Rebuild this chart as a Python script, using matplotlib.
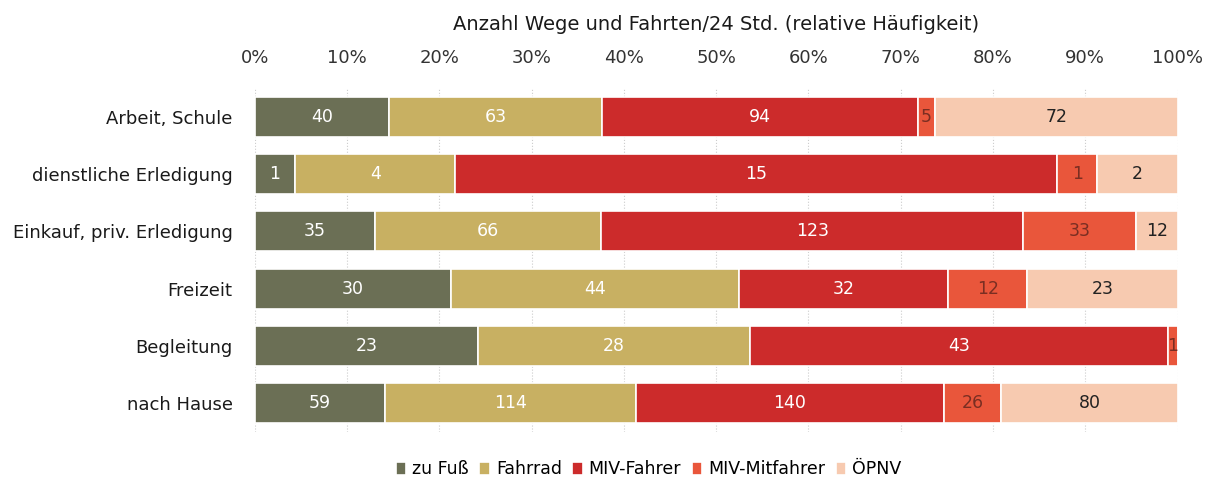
import matplotlib
matplotlib.use("Agg")
from matplotlib import pyplot as plt
import numpy as np

plt.rcParams['font.family'] = ['DejaVu Sans']

categories = ['Arbeit, Schule', 'dienstliche Erledigung', 'Einkauf, priv. Erledigung',
              'Freizeit', 'Begleitung', 'nach Hause']
series = ['zu Fuß', 'Fahrrad', 'MIV-Fahrer', 'MIV-Mitfahrer', 'ÖPNV']
zu_fuss = [40, 1, 35, 30, 23, 59]
fahrrad = [63, 4, 66, 44, 28, 114]
miv_fahrer = [94, 15, 123, 32, 43, 140]
miv_mitfahrer = [5, 1, 33, 12, 1, 26]
oepnv = [72, 2, 12, 23, 0, 80]

colors = ['#6b6f55', '#c8b062', '#cc2b2b', '#e9563b', '#f7cab0']
text_colors = ['white', 'white', 'white', '#7a2e22', '#222222']

data = np.array([zu_fuss, fahrrad, miv_fahrer, miv_mitfahrer, oepnv], dtype=float)
totals = data.sum(axis=0)
shares = data / totals * 100

fig = plt.figure(figsize=(12.19, 4.82), dpi=100)
ax = fig.add_axes([0.209, 0.104, 0.757, 0.713])

y = np.arange(len(categories))
left = np.zeros(len(categories))
for i, name in enumerate(series):
    ax.barh(y, shares[i], left=left, height=0.7, color=colors[i],
            edgecolor='white', linewidth=1.2, label=name, zorder=2)
    for j in range(len(categories)):
        if data[i, j] > 0:
            ax.text(left[j] + shares[i, j] / 2, y[j], str(int(data[i, j])),
                    ha='center', va='center', fontsize=12.5, color=text_colors[i], zorder=3)
    left += shares[i]

ax.set_xlim(0, 100)
ax.set_ylim(len(categories) - 0.5, -0.5)
ax.set_yticks(y)
ax.set_yticklabels(categories, fontsize=13, color='#1a1a1a')
ax.set_xticks(np.arange(0, 101, 10))
ax.set_xticklabels([f'{v}%' for v in range(0, 101, 10)], fontsize=13, color='#333333')
ax.xaxis.tick_top()
ax.xaxis.set_label_position('top')
ax.set_xlabel('Anzahl Wege und Fahrten/24 Std. (relative Häufigkeit)', fontsize=14,
              labelpad=14, color='#1a1a1a')
ax.tick_params(axis='both', length=0)
ax.tick_params(axis='x', pad=15)
ax.tick_params(axis='y', pad=16)
ax.grid(axis='x', color='#cccccc', linestyle=':', linewidth=0.8, zorder=0)
for s in ax.spines.values():
    s.set_visible(False)

fig.legend(loc='lower center', bbox_to_anchor=(0.532, -0.025), ncol=5, frameon=False,
           fontsize=12.5, handlelength=0.6, handleheight=0.75, handletextpad=0.35,
           columnspacing=0.6)

fig.savefig('out.png', dpi=100)
